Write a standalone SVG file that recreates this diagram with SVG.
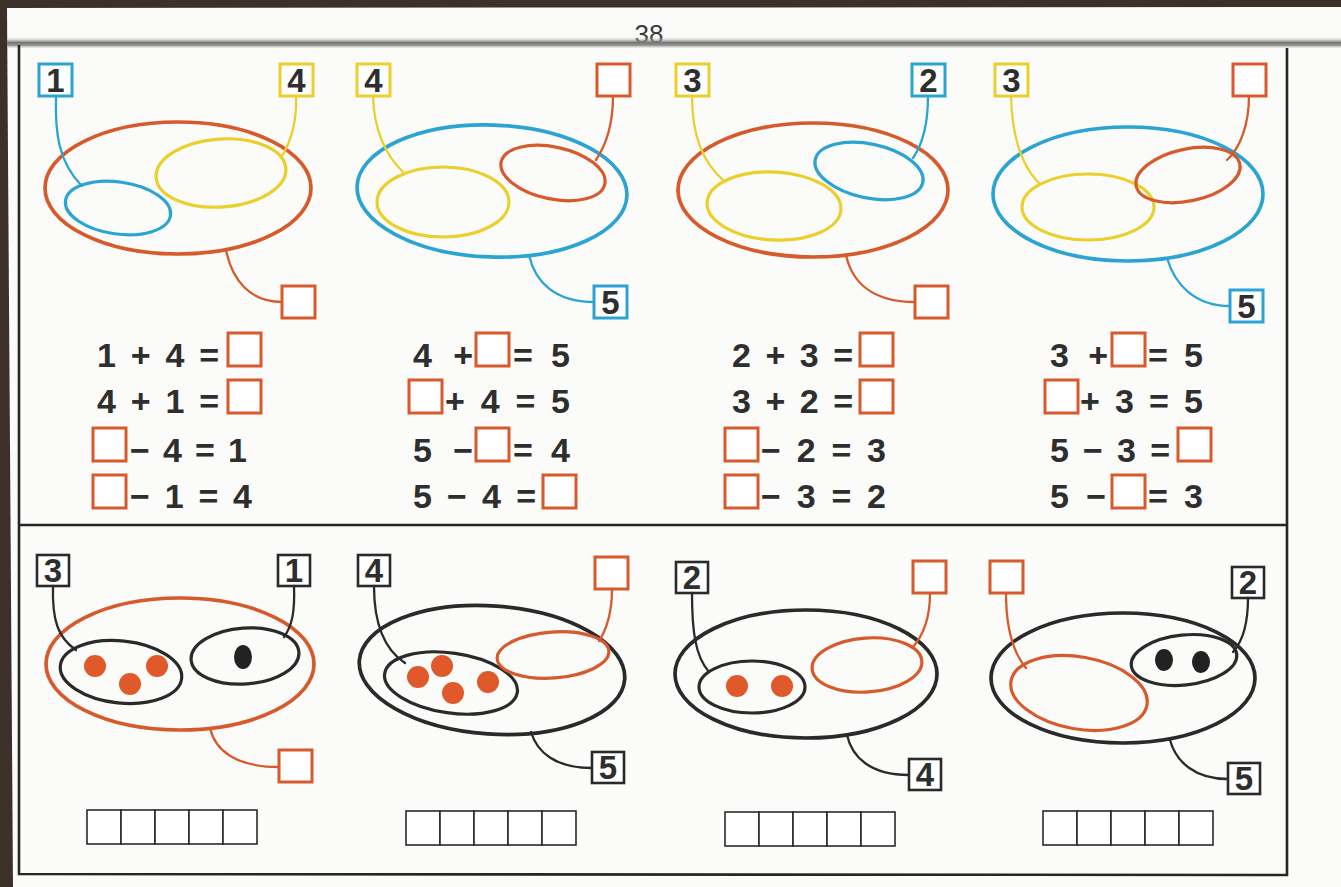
<svg xmlns="http://www.w3.org/2000/svg" width="1341" height="887" viewBox="0 0 1341 887">
<defs>
<linearGradient id="fold" x1="0" y1="0" x2="0" y2="1">
<stop offset="0" stop-color="#d8d8d6" stop-opacity="0"/>
<stop offset="0.5" stop-color="#777775"/>
<stop offset="0.75" stop-color="#8f8f8d"/>
<stop offset="1" stop-color="#d0d0ce" stop-opacity="0.3"/>
</linearGradient>
</defs>
<style>
.eb{fill:none;stroke-width:3.7}
.e{fill:none;stroke-width:3.2}
.o{stroke:#d65a2c}
.b{stroke:#2ba4d4}
.y{stroke:#ebcf2c}
.k{stroke:#2a2a2a}
.ln{fill:none;stroke-width:2.3;stroke-linecap:round}
.bx{fill:#fff;stroke-width:3}
.bk{fill:#fff;stroke:#2a2a2a;stroke-width:2.6}
.lbl{font-family:"Liberation Sans",Arial,sans-serif;font-weight:bold;font-size:33px;fill:#2e2e2e;text-anchor:middle}
.eq{font-family:"Liberation Sans",Arial,sans-serif;font-weight:bold;font-size:34px;fill:#2e2e2e}
.ans{fill:#fff;stroke:#2a2a2a;stroke-width:1.6}
.do{fill:#e0592b}
.dk{fill:#222}
</style>
<rect x="0" y="0" width="1341" height="887" fill="#3d302a"/>
<polygon points="7,8 1341,7 1341,887 13,887" fill="#fbfbf9"/>
<text x="649" y="43" text-anchor="middle" font-family="Liberation Sans, Arial, sans-serif" font-size="26" fill="#3a3a3a">38</text>
<rect x="7" y="37" width="1334" height="11" fill="url(#fold)"/>

<g id="frame" fill="none" stroke="#262626" stroke-width="2.6">
<polyline points="19,45 19,874 1287,875 1287,48"/>
<line x1="19" y1="525" x2="1287" y2="525"/>
</g>

<!-- top row -->
<g id="p1">
<g id="p1-all"><ellipse class="eb o" cx="178" cy="188" rx="133" ry="66"/></g>
<g id="p1-a"><ellipse class="e b" cx="118" cy="208" rx="53" ry="26" transform="rotate(8 118 208)"/></g>
<g id="p1-b"><ellipse class="e y" cx="221" cy="173" rx="65" ry="34" transform="rotate(-4 221 173)"/></g>
<g id="p1-l1"><rect class="bx b" x="39" y="64" width="33" height="32"/><text class="lbl" x="55.5" y="92">1</text></g>
<g id="p1-l4"><rect class="bx y" x="280" y="64" width="33" height="32"/><text class="lbl" x="296.5" y="92">4</text></g>
<g id="p1-ls"><rect class="bx o" x="282" y="286" width="33" height="32"/></g>
</g>

<g id="p2">
<g id="p2-all"><ellipse class="eb b" cx="492" cy="191" rx="135" ry="66" transform="rotate(2 492 191)"/></g>
<g id="p2-a"><ellipse class="e y" cx="443" cy="202" rx="66" ry="35"/></g>
<g id="p2-b"><ellipse class="e o" cx="553" cy="173" rx="53" ry="26" transform="rotate(12 553 173)"/></g>
<g id="p2-l4"><rect class="bx y" x="357" y="64" width="33" height="32"/><text class="lbl" x="373.5" y="92">4</text></g>
<g id="p2-lq"><rect class="bx o" x="597" y="64" width="33" height="32"/></g>
<g id="p2-l5"><rect class="bx b" x="594" y="286" width="33" height="32"/><text class="lbl" x="610.5" y="314">5</text></g>
</g>

<g id="p3">
<g id="p3-all"><ellipse class="eb o" cx="813" cy="190" rx="135" ry="67"/></g>
<g id="p3-a"><ellipse class="e y" cx="774" cy="206" rx="67" ry="34" transform="rotate(3 774 206)"/></g>
<g id="p3-b"><ellipse class="e b" cx="869" cy="171" rx="55" ry="27" transform="rotate(12 869 171)"/></g>
<g id="p3-l3"><rect class="bx y" x="676" y="64" width="33" height="32"/><text class="lbl" x="692.5" y="92">3</text></g>
<g id="p3-l2"><rect class="bx b" x="912" y="64" width="33" height="32"/><text class="lbl" x="928.5" y="92">2</text></g>
<g id="p3-ls"><rect class="bx o" x="915" y="286" width="33" height="32"/></g>
</g>

<g id="p4">
<g id="p4-all"><ellipse class="eb b" cx="1128" cy="194" rx="135" ry="67"/></g>
<g id="p4-a"><ellipse class="e y" cx="1088" cy="207" rx="66" ry="33"/></g>
<g id="p4-b"><ellipse class="e o" cx="1188" cy="175" rx="53" ry="26" transform="rotate(-12 1188 175)"/></g>
<g id="p4-l3"><rect class="bx y" x="995" y="64" width="33" height="32"/><text class="lbl" x="1011.5" y="92">3</text></g>
<g id="p4-lq"><rect class="bx o" x="1233" y="64" width="33" height="32"/></g>
<g id="p4-l5"><rect class="bx b" x="1230" y="290" width="33" height="32"/><text class="lbl" x="1246.5" y="318">5</text></g>
</g>

<!-- bottom row -->
<g id="q1">
<g id="q1-all"><ellipse class="eb o" cx="180" cy="664" rx="134" ry="66"/></g>
<g id="q1-a"><ellipse class="e k" cx="121" cy="672" rx="61" ry="31" transform="rotate(6 121 672)"/>
<circle class="do" cx="95" cy="666" r="11"/><circle class="do" cx="130" cy="684" r="11"/><circle class="do" cx="157" cy="666" r="11"/></g>
<g id="q1-b"><ellipse class="e k" cx="245" cy="656" rx="54" ry="28" transform="rotate(-4 245 656)"/>
<ellipse class="dk" cx="243" cy="657" rx="9" ry="12"/></g>
<g id="q1-l3"><rect class="bk" x="37" y="555" width="32" height="31"/><text class="lbl" x="53" y="582">3</text></g>
<g id="q1-l1"><rect class="bk" x="278" y="555" width="32" height="31"/><text class="lbl" x="294" y="582">1</text></g>
<g id="q1-ls"><rect class="bx o" x="279" y="750" width="33" height="32"/></g>
<g id="q1-ans"><rect class="ans" x="87" y="810" width="34" height="34"/><rect class="ans" x="121" y="810" width="34" height="34"/><rect class="ans" x="155" y="810" width="34" height="34"/><rect class="ans" x="189" y="810" width="34" height="34"/><rect class="ans" x="223" y="810" width="34" height="34"/></g>
</g>

<g id="q2">
<g id="q2-all"><ellipse class="eb k" cx="492" cy="670" rx="133" ry="64" transform="rotate(4 492 670)"/></g>
<g id="q2-a"><ellipse class="e k" cx="451" cy="683" rx="67" ry="30" transform="rotate(8 451 683)"/>
<circle class="do" cx="418" cy="677" r="11"/><circle class="do" cx="442" cy="666" r="11"/><circle class="do" cx="453" cy="693" r="11"/><circle class="do" cx="488" cy="682" r="11"/></g>
<g id="q2-b"><ellipse class="e o" cx="553" cy="655" rx="56" ry="23" transform="rotate(-4 553 655)"/></g>
<g id="q2-l4"><rect class="bk" x="358" y="555" width="32" height="31"/><text class="lbl" x="374" y="582">4</text></g>
<g id="q2-lq"><rect class="bx o" x="595" y="557" width="33" height="32"/></g>
<g id="q2-l5"><rect class="bk" x="592" y="752" width="32" height="31"/><text class="lbl" x="608" y="779">5</text></g>
<g id="q2-ans"><rect class="ans" x="406" y="811" width="34" height="34"/><rect class="ans" x="440" y="811" width="34" height="34"/><rect class="ans" x="474" y="811" width="34" height="34"/><rect class="ans" x="508" y="811" width="34" height="34"/><rect class="ans" x="542" y="811" width="34" height="34"/></g>
</g>

<g id="q3">
<g id="q3-all"><ellipse class="eb k" cx="806" cy="674" rx="131" ry="64"/></g>
<g id="q3-a"><ellipse class="e k" cx="752" cy="687" rx="53" ry="26"/>
<circle class="do" cx="737" cy="686" r="11"/><circle class="do" cx="782" cy="686" r="11"/></g>
<g id="q3-b"><ellipse class="e o" cx="867" cy="665" rx="55" ry="27" transform="rotate(-4 867 665)"/></g>
<g id="q3-l2"><rect class="bk" x="676" y="562" width="32" height="31"/><text class="lbl" x="692" y="589">2</text></g>
<g id="q3-lq"><rect class="bx o" x="913" y="561" width="33" height="32"/></g>
<g id="q3-l4"><rect class="bk" x="909" y="759" width="32" height="31"/><text class="lbl" x="925" y="786">4</text></g>
<g id="q3-ans"><rect class="ans" x="725" y="812" width="34" height="34"/><rect class="ans" x="759" y="812" width="34" height="34"/><rect class="ans" x="793" y="812" width="34" height="34"/><rect class="ans" x="827" y="812" width="34" height="34"/><rect class="ans" x="861" y="812" width="34" height="34"/></g>
</g>

<g id="q4">
<g id="q4-all"><ellipse class="eb k" cx="1123" cy="678" rx="132" ry="65"/></g>
<g id="q4-a"><ellipse class="e o" cx="1079" cy="693" rx="69" ry="36" transform="rotate(10 1079 693)"/></g>
<g id="q4-b"><ellipse class="e k" cx="1184" cy="660" rx="53" ry="25" transform="rotate(-6 1184 660)"/>
<ellipse class="dk" cx="1164" cy="660" rx="9" ry="11"/><ellipse class="dk" cx="1201" cy="662" rx="9" ry="11"/></g>
<g id="q4-lq"><rect class="bx o" x="990" y="561" width="33" height="32"/></g>
<g id="q4-l2"><rect class="bk" x="1232" y="567" width="32" height="31"/><text class="lbl" x="1248" y="594">2</text></g>
<g id="q4-l5"><rect class="bk" x="1228" y="763" width="32" height="31"/><text class="lbl" x="1244" y="790">5</text></g>
<g id="q4-ans"><rect class="ans" x="1043" y="811" width="34" height="34"/><rect class="ans" x="1077" y="811" width="34" height="34"/><rect class="ans" x="1111" y="811" width="34" height="34"/><rect class="ans" x="1145" y="811" width="34" height="34"/><rect class="ans" x="1179" y="811" width="34" height="34"/></g>
</g>

<g id="connectors">
<path class="ln b" d="M56,96 C55,132 58,162 82,186"/>
<path class="ln y" d="M296,96 C297,120 292,140 281,158"/>
<path class="ln o" d="M226,250 C232,280 250,302 282,302"/>
<path class="ln y" d="M373,96 C374,130 385,155 404,173"/>
<path class="ln o" d="M613,96 C613,125 606,145 596,160"/>
<path class="ln b" d="M529,255 C535,282 555,302 594,302"/>
<path class="ln y" d="M692,96 C692,135 702,162 725,182"/>
<path class="ln b" d="M928,96 C928,125 922,145 913,158"/>
<path class="ln o" d="M846,255 C852,282 872,302 915,302"/>
<path class="ln y" d="M1011,96 C1012,135 1020,165 1040,184"/>
<path class="ln o" d="M1249,96 C1249,125 1240,148 1227,160"/>
<path class="ln b" d="M1167,258 C1175,285 1195,306 1230,306"/>

<path class="ln k" d="M53,586 C52,620 58,638 76,650"/>
<path class="ln k" d="M294,586 C295,612 292,626 284,637"/>
<path class="ln o" d="M210,728 C215,750 235,767 279,767"/>
<path class="ln k" d="M374,586 C374,625 385,650 405,663"/>
<path class="ln o" d="M612,589 C612,610 608,627 599,641"/>
<path class="ln k" d="M531,732 C537,752 555,768 592,768"/>
<path class="ln k" d="M692,593 C692,630 695,656 709,672"/>
<path class="ln o" d="M930,593 C930,615 924,635 912,648"/>
<path class="ln k" d="M847,735 C852,757 870,775 909,775"/>
<path class="ln o" d="M1006,593 C1006,625 1011,650 1026,668"/>
<path class="ln k" d="M1248,598 C1248,625 1242,642 1233,652"/>
<path class="ln k" d="M1170,740 C1176,762 1195,779 1228,779"/>
</g>

<g id="equations">
<g id="eq1">
<text class="eq" x="97" y="367" textLength="122" lengthAdjust="spacing">1 + 4 =</text>
<rect class="bx o" x="228" y="333" width="33" height="33"/>
<text class="eq" x="97" y="413" textLength="122" lengthAdjust="spacing">4 + 1 =</text>
<rect class="bx o" x="228" y="380" width="33" height="33"/>
<rect class="bx o" x="93" y="428" width="33" height="33"/>
<text class="eq" x="130" y="462" textLength="117" lengthAdjust="spacing">− 4 = 1</text>
<rect class="bx o" x="93" y="475" width="33" height="33"/>
<text class="eq" x="130" y="508" textLength="122" lengthAdjust="spacing">− 1 = 4</text>
</g>
<g id="eq2">
<text class="eq" x="413" y="367" textLength="60" lengthAdjust="spacing">4 +</text>
<rect class="bx o" x="476" y="333" width="33" height="33"/>
<text class="eq" x="513" y="367" textLength="57" lengthAdjust="spacing">= 5</text>
<rect class="bx o" x="409" y="380" width="33" height="33"/>
<text class="eq" x="445" y="413" textLength="125" lengthAdjust="spacing">+ 4 = 5</text>
<text class="eq" x="413" y="462" textLength="60" lengthAdjust="spacing">5 −</text>
<rect class="bx o" x="476" y="428" width="33" height="33"/>
<text class="eq" x="513" y="462" textLength="57" lengthAdjust="spacing">= 4</text>
<text class="eq" x="413" y="508" textLength="123" lengthAdjust="spacing">5 − 4 =</text>
<rect class="bx o" x="543" y="475" width="33" height="33"/>
</g>
<g id="eq3">
<text class="eq" x="732" y="367" textLength="121" lengthAdjust="spacing">2 + 3 =</text>
<rect class="bx o" x="860" y="333" width="33" height="33"/>
<text class="eq" x="732" y="413" textLength="121" lengthAdjust="spacing">3 + 2 =</text>
<rect class="bx o" x="860" y="380" width="33" height="33"/>
<rect class="bx o" x="725" y="428" width="33" height="33"/>
<text class="eq" x="761" y="462" textLength="125" lengthAdjust="spacing">− 2 = 3</text>
<rect class="bx o" x="725" y="475" width="33" height="33"/>
<text class="eq" x="761" y="508" textLength="125" lengthAdjust="spacing">− 3 = 2</text>
</g>
<g id="eq4">
<text class="eq" x="1050" y="367" textLength="58" lengthAdjust="spacing">3 +</text>
<rect class="bx o" x="1112" y="333" width="33" height="33"/>
<text class="eq" x="1148" y="367" textLength="55" lengthAdjust="spacing">= 5</text>
<rect class="bx o" x="1045" y="380" width="33" height="33"/>
<text class="eq" x="1080" y="413" textLength="123" lengthAdjust="spacing">+ 3 = 5</text>
<text class="eq" x="1050" y="462" textLength="120" lengthAdjust="spacing">5 − 3 =</text>
<rect class="bx o" x="1178" y="428" width="33" height="33"/>
<text class="eq" x="1050" y="508" textLength="56" lengthAdjust="spacing">5 −</text>
<rect class="bx o" x="1112" y="475" width="33" height="33"/>
<text class="eq" x="1148" y="508" textLength="55" lengthAdjust="spacing">= 3</text>
</g>
</g>
</svg>
